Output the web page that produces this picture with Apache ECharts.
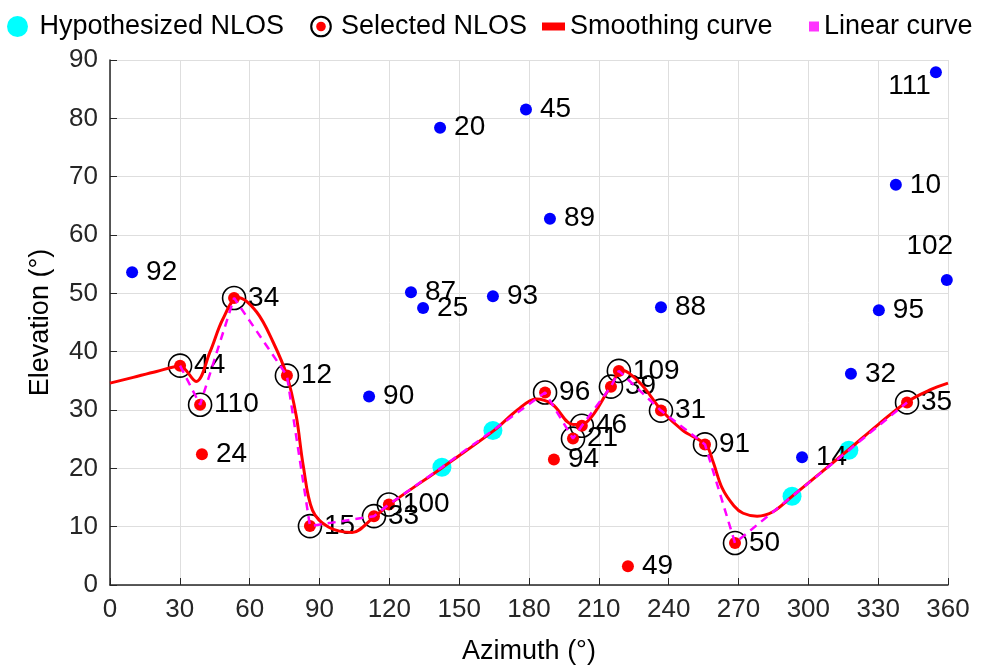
<!DOCTYPE html>
<html>
<head>
<meta charset="utf-8">
<script src="https://cdn.jsdelivr.net/npm/echarts@6/dist/echarts.min.js"></script>
<style>
  html, body { margin: 0; padding: 0; background: #fff; }
  #main { width: 988px; height: 670px; }
</style>
</head>
<body>
<div id="main"></div>
<script>
// visible (LOS) satellites, blue
const visAz  = [9.5, 129.3, 134.5, 164.5, 141.8, 178.7, 189.0, 236.7, 354.8, 337.6, 359.5, 330.3, 318.3, 297.3, 111.3];
const visEl  = [53.6, 50.2, 47.5, 49.5, 78.4, 81.5, 62.8, 47.6, 87.9, 68.6, 52.3, 47.1, 36.2, 21.9, 32.3];
const visPrn = [92, 87, 25, 93, 20, 45, 89, 88, 111, 10, 102, 95, 32, 14, 90];

// NLOS candidates not selected, red
const rejAz  = [39.5, 190.7, 222.5];
const rejEl  = [22.4, 21.5, 3.2];
const rejPrn = [24, 94, 49];

// selected NLOS
const selAz  = [30.1, 38.7, 53.3, 76.0, 85.9, 113.4, 119.8, 186.9, 198.9, 202.7, 215.2, 218.6, 236.7, 255.6, 268.5, 342.4];
const selEl  = [37.6, 30.9, 49.2, 35.9, 10.1, 11.8, 13.8, 33.0, 25.1, 27.3, 34.0, 36.7, 29.9, 24.1, 7.2, 31.3];
const selPrn = [44, 110, 34, 12, 15, 33, 100, 96, 21, 46, 39, 109, 31, 91, 50, 35];

// hypothesized NLOS, cyan
const hypAz = [142.6, 164.5, 293.0, 317.4];
const hypEl = [20.2, 26.5, 15.2, 23.1];

// smoothing curve
const smoothAz = [0, 10, 20, 30, 37, 43, 48.5, 55, 63, 70, 76, 80, 83, 87, 94, 104, 113, 120, 143, 165, 175, 183, 190, 199, 205, 215, 220, 228, 237, 246, 256, 259, 263, 268, 272, 278, 285, 293, 317, 330, 342, 352, 360];
const smoothEl = [34.6, 35.6, 36.6, 37.5, 34.9, 40.0, 45.6, 49.3, 46.8, 41.7, 35.9, 29.0, 20.5, 12.8, 9.9, 9.0, 11.5, 13.8, 20.2, 26.5, 30.0, 31.9, 31.0, 27.5, 28.0, 34.0, 36.8, 34.5, 29.9, 26.5, 24.0, 21.2, 16.6, 13.6, 12.3, 11.8, 12.6, 15.2, 23.1, 27.5, 31.3, 33.4, 34.6];

const xTicks = [0, 360, 30];
const yTicks = [0, 90, 10];

// label placement overrides
const labelOverride = {
  111: { position: 'left', offset: [9, 14] },
  102: { position: 'top', offset: [-17, -6] }
};

const FONT = 'Liberation Sans, Arial, sans-serif';

function pts(az, el, prn) {
  return az.map((a, i) => {
    const item = { value: [a, el[i], prn ? prn[i] : ''] };
    if (prn && labelOverride[prn[i]]) item.label = labelOverride[prn[i]];
    return item;
  });
}

// linear curve joins selected + hypothesized in azimuth order
const linPts = selAz.map((a, i) => [a, selEl[i]])
  .concat(hypAz.map((a, i) => [a, hypEl[i]]))
  .sort((p, q) => p[0] - q[0]);

const ptLabel = {
  show: true, position: 'right', distance: 8,
  formatter: p => p.value[2], color: '#000', fontSize: 28, fontFamily: FONT
};

const ringSvg = '<svg xmlns="http://www.w3.org/2000/svg" width="24" height="24" viewBox="0 0 24 24">' +
  '<circle cx="12" cy="12" r="10.2" fill="none" stroke="black" stroke-width="2.2"/>' +
  '<circle cx="12" cy="12" r="5" fill="red"/></svg>';
const ringIcon = 'image://data:image/svg+xml;charset=utf-8,' + encodeURIComponent(ringSvg);

const legText = { fontSize: 27, color: '#000', fontFamily: FONT };

let chart = echarts.init(document.getElementById('main'));
chart.setOption({
  animation: false,
  backgroundColor: '#fff',
  textStyle: { fontFamily: FONT },
  legend: [
    { data: [{ name: 'Hypothesized NLOS', icon: 'circle' }], left: 2, top: 8, itemWidth: 34, itemHeight: 21, textStyle: legText },
    { data: [{ name: 'Selected NLOS', icon: ringIcon }], left: 301, top: 8, itemWidth: 30, itemHeight: 23, textStyle: legText },
    { data: [{ name: 'Smoothing curve', icon: 'rect' }], left: 537, top: 8, itemWidth: 23, itemHeight: 8, textStyle: legText },
    { data: [{ name: 'Linear curve', icon: 'rect' }], left: 804, top: 8, itemWidth: 10, itemHeight: 10, textStyle: legText }
  ],
  grid: { left: 110, right: 40, top: 60, bottom: 83 },
  xAxis: {
    type: 'value', min: xTicks[0], max: xTicks[1], interval: xTicks[2],
    name: 'Azimuth (°)', nameLocation: 'middle', nameGap: 53,
    nameTextStyle: { fontSize: 27, color: '#000', fontFamily: FONT },
    axisLine: { lineStyle: { color: '#262626', width: 1.5 } },
    axisTick: { inside: true, length: 7, lineStyle: { color: '#262626' } },
    axisLabel: { fontSize: 26, color: '#262626', margin: 12, fontFamily: FONT },
    splitLine: { show: true, lineStyle: { color: '#dedede', width: 1 } }
  },
  yAxis: {
    type: 'value', min: yTicks[0], max: yTicks[1], interval: yTicks[2],
    name: 'Elevation (°)', nameLocation: 'middle', nameGap: 56,
    nameTextStyle: { fontSize: 27, color: '#000', fontFamily: FONT },
    axisLine: { show: true, lineStyle: { color: '#262626', width: 1.5 } },
    axisTick: { show: true, inside: true, length: 7, lineStyle: { color: '#262626' } },
    axisLabel: { fontSize: 26, color: '#262626', margin: 12, fontFamily: FONT },
    splitLine: { show: true, lineStyle: { color: '#dedede', width: 1 } }
  },
  series: [
    {
      name: 'Visible', type: 'scatter', symbolSize: 12, z: 2,
      itemStyle: { color: '#0000ff', opacity: 1 }, label: ptLabel,
      data: pts(visAz, visEl, visPrn)
    },
    {
      name: 'Rejected', type: 'scatter', symbolSize: 12, z: 2,
      itemStyle: { color: '#ff0000', opacity: 1 }, label: ptLabel,
      data: pts(rejAz, rejEl, rejPrn)
    },
    {
      name: 'Selected ring', type: 'scatter', symbolSize: 23, z: 2,
      itemStyle: { color: 'rgba(0,0,0,0)', borderColor: '#000', borderWidth: 1.6, opacity: 1 },
      data: pts(selAz, selEl)
    },
    {
      name: 'Selected NLOS', type: 'scatter', symbolSize: 12, z: 2,
      itemStyle: { color: '#ff0000', opacity: 1 }, label: ptLabel,
      data: pts(selAz, selEl, selPrn)
    },
    {
      name: 'Hypothesized NLOS', type: 'scatter', symbolSize: 19, z: 2,
      itemStyle: { color: '#00ffff', opacity: 1 },
      data: pts(hypAz, hypEl)
    },
    {
      name: 'Smoothing curve', type: 'line', smooth: 0.35, showSymbol: false, z: 3,
      itemStyle: { color: '#ff0000' },
      lineStyle: { color: '#ff0000', width: 3 },
      data: smoothAz.map((a, i) => [a, smoothEl[i]])
    },
    {
      name: 'Linear curve', type: 'line', showSymbol: false, z: 4,
      itemStyle: { color: '#ff33ff' },
      lineStyle: { color: '#ff00ff', width: 2.5, type: [8, 6] },
      data: linPts
    }
  ]
});
</script>
</body>
</html>
